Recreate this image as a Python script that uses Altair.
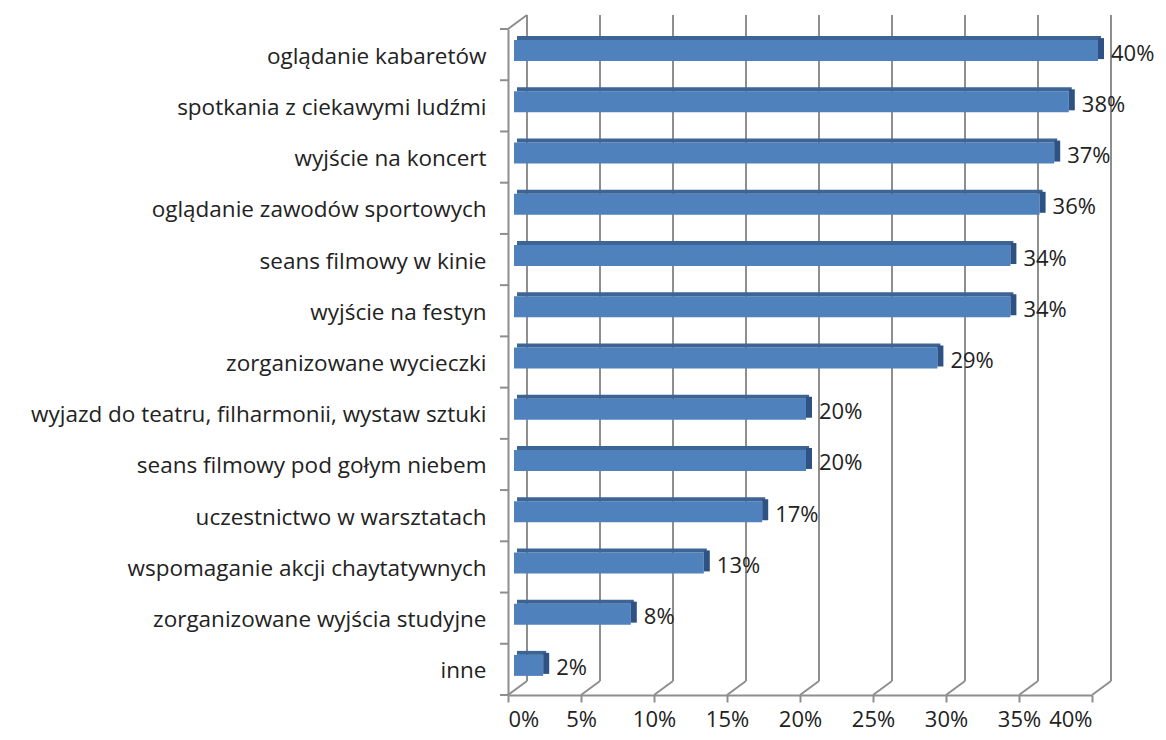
import altair as alt
import pandas as pd

categories = [
    "oglądanie kabaretów",
    "spotkania z ciekawymi ludźmi",
    "wyjście na koncert",
    "oglądanie zawodów sportowych",
    "seans filmowy w kinie",
    "wyjście na festyn",
    "zorganizowane wycieczki",
    "wyjazd do teatru, filharmonii, wystaw sztuki",
    "seans filmowy pod gołym niebem",
    "uczestnictwo w warsztatach",
    "wspomaganie akcji chaytatywnych",
    "zorganizowane wyjścia studyjne",
    "inne",
]
values_pct = [40, 38, 37, 36, 34, 34, 29, 20, 20, 17, 13, 8, 2]
tick_pct = [0, 5, 10, 15, 20, 25, 30, 35, 40]

W, H = 584, 666
DX, DY = 19, -14  # depth shift of the back wall (px)
GRID = "#8e8e8e"
FONT = "Open Sans"
TXT = "#222222"
FS = 22.5

bars = pd.DataFrame({
    "cat": categories,
    "v": [p / 100 for p in values_pct],
    "lab": [f"{p}%" for p in values_pct],
})
ticks = pd.DataFrame({"v": [t / 100 for t in tick_pct]})

xs = alt.Scale(domain=[0, 0.4], nice=False, zero=True)
ys = alt.Scale(domain=categories, paddingInner=0, paddingOuter=0)

xaxis = alt.Axis(values=[t / 100 for t in tick_pct], format=".0%", title=None,
                 labelFontSize=22, labelFont=FONT, labelColor=TXT,
                 labelPadding=7, tickSize=7, tickColor=GRID, tickWidth=2,
                 domainColor=GRID, domainWidth=2, grid=False)
yaxis = alt.Axis(title=None, labelFontSize=FS, labelFont=FONT, labelColor=TXT,
                 labelPadding=22, ticks=False, domain=True, domainColor=GRID,
                 domainWidth=2, grid=False, labelLimit=600, labelBaseline="middle",
                 labelOffset=2)

back_grid = alt.Chart(ticks).mark_rule(color=GRID, strokeWidth=2, xOffset=DX, x2Offset=DX).encode(
    x=alt.X("v:Q", scale=xs, axis=xaxis),
    y=alt.value(DY),
    y2=alt.value(H + DY),
)
floor = alt.Chart(ticks).mark_rule(color=GRID, strokeWidth=2, x2Offset=DX).encode(
    x=alt.X("v:Q", scale=xs),
    x2="v:Q",
    y=alt.value(H),
    y2=alt.value(H + DY),
)
corner = alt.Chart(ticks.head(1)).mark_rule(color=GRID, strokeWidth=2, x2Offset=DX).encode(
    x=alt.X("v:Q", scale=xs),
    x2="v:Q",
    y=alt.value(0),
    y2=alt.value(DY),
)
left_ticks = alt.Chart(bars).mark_rule(color=GRID, strokeWidth=2).encode(
    y=alt.Y("cat:N", scale=ys, axis=yaxis, bandPosition=0, sort=categories),
    x=alt.value(-8),
    x2=alt.value(0),
)
last_tick = alt.Chart(bars.head(1)).mark_rule(color=GRID, strokeWidth=2).encode(
    y=alt.value(H), x=alt.value(-8), x2=alt.value(0),
)

front = alt.Chart(bars).mark_bar(height=21, yOffset=-4, xOffset=6, x2Offset=6,
                                 color="#4f81bd").encode(
    x=alt.X("v:Q", scale=xs),
    y=alt.Y("cat:N", scale=ys, sort=categories),
)
top = alt.Chart(bars).mark_bar(height=4, yOffset=-16.5, xOffset=9, x2Offset=9,
                               color="#3c6596").encode(
    x=alt.X("v:Q", scale=xs),
    y=alt.Y("cat:N", scale=ys, sort=categories),
)
side = alt.Chart(bars).mark_bar(height=21, yOffset=-6, xOffset=6, x2Offset=12,
                                color="#2d5283").encode(
    x=alt.X("v:Q", scale=xs),
    x2="v:Q",
    y=alt.Y("cat:N", scale=ys, sort=categories),
)
labels = alt.Chart(bars).mark_text(align="left", baseline="middle", dx=19, dy=-1,
                                   fontSize=22, font=FONT, color=TXT).encode(
    x=alt.X("v:Q", scale=xs),
    y=alt.Y("cat:N", scale=ys, sort=categories),
    text="lab:N",
)

chart = alt.layer(back_grid, floor, corner, left_ticks, last_tick, front, top, side, labels).properties(
    width=W, height=H,
    autosize=alt.AutoSizeParams(type="none"),
    padding={"left": 500, "top": 21, "right": 65, "bottom": 42},
    background="white",
).configure_view(stroke=None)

chart.save("out.html", embed_options={"renderer": "svg", "actions": False})
